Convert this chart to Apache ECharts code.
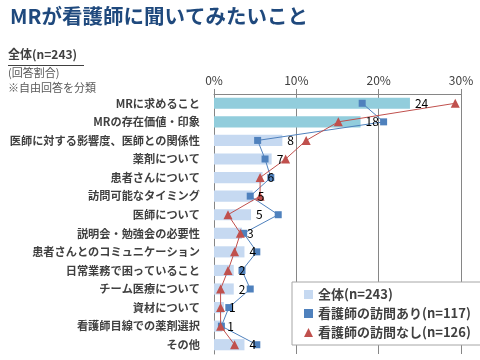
<!DOCTYPE html>
<html><head><meta charset="utf-8">
<script src="https://cdn.jsdelivr.net/npm/echarts@6/dist/echarts.min.js"></script>
<style>html,body{margin:0;padding:0;background:#fff}#c{width:480px;height:360px}</style>
</head><body><div id="c"></div>
<script>
const categories = ['MRに求めること','MRの存在価値・印象','医師に対する影響度、医師との関係性','薬剤について','患者さんについて','訪問可能なタイミング','医師について','説明会・勉強会の必要性','患者さんとのコミュニケーション','日常業務で困っていること','チーム医療について','資材について','看護師目線での薬剤選択','その他'];
const totalValues = [23.8, 17.8, 8.3, 7.0, 5.9, 4.7, 4.5, 3.4, 3.7, 2.4, 2.4, 1.2, 1.0, 3.7];
const visitYes = [18.0, 20.6, 5.3, 6.2, 6.9, 4.4, 7.8, 3.6, 5.2, 3.4, 4.4, 1.8, 0.9, 5.2];
const visitNo = [29.3, 15.1, 11.2, 8.7, 5.6, 5.6, 1.7, 3.2, 2.5, 1.7, 0.8, 0.8, 0.8, 2.5];
const xTicks = [0, 10, 20, 30];
const seriesNames = ['全体(n=243)', '看護師の訪問あり(n=117)', '看護師の訪問なし(n=126)'];

const FONT = '"Noto Sans CJK JP", sans-serif';
const chart = echarts.init(document.getElementById('c'));
chart.setOption({
  animation: false,
  textStyle: { fontFamily: FONT },
  graphic: [
    { type: 'text', left: 10, top: 6, style: { text: 'MRが看護師に聞いてみたいこと', font: 'bold 20.5px ' + FONT, fill: '#1F497D' } },
    { type: 'text', left: 8, top: 48, style: { text: '全体(n=243)', font: 'bold 12px ' + FONT, fill: '#404040' } },
    { type: 'line', shape: { x1: 8, y1: 65.5, x2: 84, y2: 65.5 }, style: { stroke: '#404040', lineWidth: 1 } },
    { type: 'text', left: 8, top: 67, style: { text: '(回答割合)', font: '11px ' + FONT, fill: '#595959' } },
    { type: 'text', left: 8, top: 82, style: { text: '※自由回答を分類', font: '11px ' + FONT, fill: '#595959' } }
  ],
  grid: { left: 214, right: 19, top: 94, bottom: 6, containLabel: false, outerBoundsMode: 'none' },
  xAxis: {
    type: 'value', position: 'top', min: xTicks[0], max: xTicks[xTicks.length - 1], interval: 10,
    axisLine: { show: true, lineStyle: { color: '#868686' } },
    axisTick: { show: true, length: 5, lineStyle: { color: '#868686' } },
    axisLabel: { formatter: v => v + '%', color: '#404040', fontSize: 12, margin: 8 },
    splitLine: { show: true, lineStyle: { color: '#868686', width: 1 } }
  },
  yAxis: {
    type: 'category', data: categories, inverse: true,
    axisLine: { show: true, lineStyle: { color: '#868686' } },
    axisTick: { show: false },
    axisLabel: { color: '#404040', fontSize: 11.2, fontWeight: 'bold', margin: 14 }
  },
  legend: {
    orient: 'vertical', left: 292, top: 282,
    backgroundColor: '#fff', borderColor: '#A6A6A6', borderWidth: 1,
    padding: [6, 10, 6, 12], itemGap: 6, itemWidth: 9, itemHeight: 9,
    textStyle: { color: '#404040', fontSize: 13, fontWeight: 'bold' },
    data: [
      { name: seriesNames[0], icon: 'rect', itemStyle: { color: '#C6D9F1' } },
      { name: seriesNames[1], icon: 'rect' },
      { name: seriesNames[2], icon: 'triangle' }
    ]
  },
  series: [
    {
      name: seriesNames[0], type: 'bar', barCategoryGap: '40%', z: 2,
      data: totalValues.map((v, i) => ({ value: v, itemStyle: { color: i < 2 ? '#92CDDC' : '#C6D9F1' } })),
      itemStyle: { color: '#C6D9F1' },
      label: { show: false }
    },
    {
      name: seriesNames[1], type: 'line', data: visitYes, z: 3,
      symbol: 'rect', symbolSize: 7,
      itemStyle: { color: '#4F81BD' },
      lineStyle: { color: '#4F81BD', width: 1 }
    },
    {
      name: seriesNames[2], type: 'line', data: visitNo, z: 3,
      symbol: 'triangle', symbolSize: 9,
      itemStyle: { color: '#C0504D' },
      lineStyle: { color: '#C0504D', width: 1 }
    },
    {
      name: 'labels', type: 'bar', barCategoryGap: '40%', barGap: '-100%', z: 10, silent: true,
      data: totalValues,
      itemStyle: { color: 'rgba(0,0,0,0)' },
      label: { show: true, position: 'right', distance: 5, color: '#000', fontSize: 12, formatter: p => Math.round(p.value) }
    }
  ]
});
</script></body></html>
